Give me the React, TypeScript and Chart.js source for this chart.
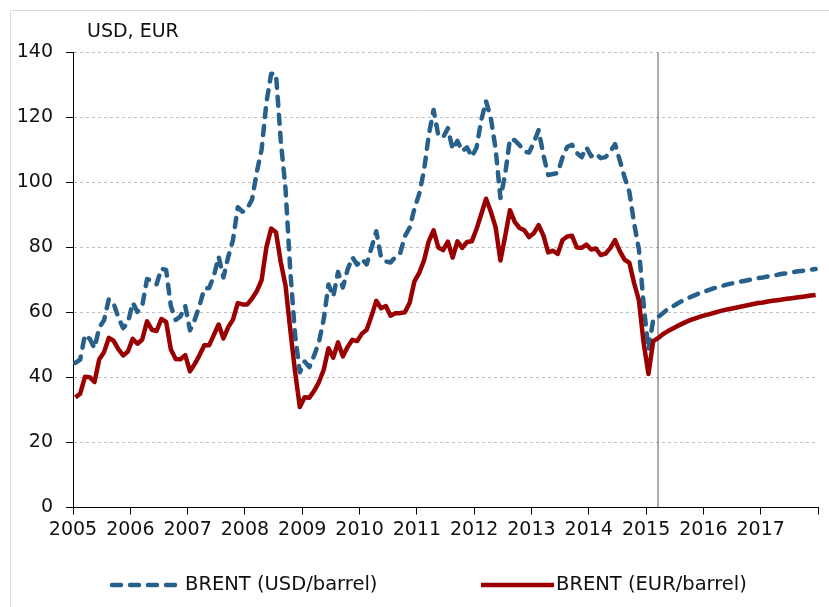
import React, { useEffect, useRef } from 'react';
import { Chart, registerables } from 'chart.js';

Chart.register(...registerables);

const FONT = '"DejaVu Sans", Verdana, sans-serif';

// Year tick labels (one tick every 12 months, Jan 2005 .. Dec 2017)
const yearLabels = ['2005', '2006', '2007', '2008', '2009', '2010', '2011', '2012', '2013', '2014', '2015', '2016', '2017'];

// Monthly Brent, USD/barrel, Jan 2005 .. Feb 2015
const usdHistory = [
  44.5, 45.5, 53.1, 51.9, 49.0, 55.4, 57.6, 64.1, 62.8, 58.5, 55.2, 56.9,
  63.0, 60.2, 62.1, 70.3, 69.8, 68.7, 73.5, 73.1, 61.9, 57.7, 58.8, 62.0,
  54.5, 57.8, 62.1, 67.4, 67.5, 71.3, 77.2, 70.8, 77.1, 82.3, 92.4, 91.0,
  92.0, 94.8, 103.3, 110.2, 124.6, 133.5, 133.5, 113.0, 98.1, 72.8, 53.2, 41.6,
  44.9, 43.2, 46.8, 50.9, 57.9, 68.6, 64.9, 72.5, 67.7, 73.2, 77.0, 74.7,
  76.4, 74.8, 79.9, 85.0, 77.0, 75.7, 75.4, 77.1, 78.2, 83.5, 86.1, 92.0,
  96.5, 103.7, 114.6, 122.3, 114.5, 113.9, 116.7, 110.2, 112.8, 109.6, 110.8, 107.9,
  110.7, 119.3, 125.0, 119.8, 110.3, 95.2, 102.6, 113.4, 113.0, 111.5, 109.5, 109.2,
  112.3, 116.1, 108.5, 102.3, 102.6, 102.9, 107.7, 111.0, 111.6, 109.1, 107.8, 110.8,
  108.1, 108.9, 107.5, 107.8, 109.5, 111.8, 106.8, 101.6, 97.1, 87.4, 79.4, 62.3,
  48.5, 57.8,
];

// Forecast, USD/barrel, Mar 2015 .. Dec 2017
const usdForecast = [
  58.6, 59.8, 61.0, 61.8, 62.7, 63.5, 64.2, 64.9, 65.5, 66.1,
  66.6, 67.1, 67.6, 68.0, 68.4, 68.8, 69.1, 69.4, 69.7, 70.0, 70.3, 70.6,
  70.8, 71.1, 71.4, 71.6, 71.9, 72.1, 72.3, 72.6, 72.8, 73.0, 73.2, 73.4,
];

// Monthly Brent, EUR/barrel, Jan 2005 .. Feb 2015
const eurHistory = [
  33.9, 35.0, 40.2, 40.1, 38.6, 45.6, 47.8, 52.2, 51.3, 48.7, 46.8, 48.0,
  51.9, 50.4, 51.7, 57.3, 54.7, 54.3, 58.0, 57.1, 48.6, 45.7, 45.6, 46.9,
  41.9, 44.2, 46.9, 49.9, 49.9, 53.1, 56.3, 52.0, 55.5, 57.8, 62.9, 62.5,
  62.5, 64.3, 66.6, 70.0, 80.1, 85.8, 84.7, 75.5, 68.3, 54.7, 41.8, 30.9,
  33.9, 33.8, 35.9, 38.6, 42.4, 49.0, 46.1, 50.8, 46.5, 49.4, 51.6, 51.2,
  53.5, 54.7, 58.9, 63.6, 61.3, 62.0, 59.0, 59.8, 59.8, 60.1, 63.0, 69.6,
  72.2, 76.0, 81.9, 85.3, 80.0, 79.2, 81.8, 76.9, 81.9, 79.9, 81.7, 81.9,
  85.7, 90.3, 95.0, 91.0, 86.2, 76.0, 83.5, 91.5, 87.9, 86.0, 85.3, 83.2,
  84.4, 86.9, 83.7, 78.5, 79.0, 78.0, 82.3, 83.4, 83.6, 80.0, 79.9, 80.9,
  79.4, 79.7, 77.7, 78.1, 79.8, 82.3, 78.9, 76.3, 75.3, 69.0, 63.7, 50.5,
  41.1, 51.2,
];

// Forecast, EUR/barrel, Mar 2015 .. Dec 2017
const eurForecast = [
  52.1, 53.3, 54.2, 55.0, 55.8, 56.5, 57.2, 57.8, 58.3, 58.8,
  59.2, 59.6, 60.0, 60.4, 60.8, 61.1, 61.4, 61.7, 62.0, 62.3, 62.6, 62.9,
  63.1, 63.4, 63.6, 63.8, 64.0, 64.2, 64.4, 64.6, 64.8, 65.0, 65.2, 65.4,
];

const usdValues = [...usdHistory, ...usdForecast];
const eurValues = [...eurHistory, ...eurForecast];

// Month index (0 = Jan 2005) where the forecast marker line sits (Mar 2015)
const forecastMonth = 122;

const seriesNames = ['BRENT (USD/barrel)', 'BRENT (EUR/barrel)'];
const unitLabel = 'USD, EUR';
const yMax = 140;
const yStep = 20;
const monthsPerYear = 12;
const totalMonths = yearLabels.length * monthsPerYear;

const BLUE = '#27608A';
const RED = '#9A0000';
const TEXT = '#111111';

const toPoints = (vals: number[]) => vals.map((v, i) => ({ x: i + 0.5, y: v }));

const framePlugin = {
  id: 'frame',
  beforeDraw(chart: any) {
    const { ctx, width, height } = chart;
    ctx.save();
    ctx.fillStyle = '#ffffff';
    ctx.fillRect(0, 0, width, height);
    ctx.strokeStyle = '#D9D9D9';
    ctx.lineWidth = 1;
    ctx.beginPath();
    ctx.moveTo(10.5, height);
    ctx.lineTo(10.5, 10.5);
    ctx.lineTo(width, 10.5);
    ctx.stroke();
    ctx.restore();
  },
};

const unitPlugin = {
  id: 'unitLabel',
  afterDraw(chart: any) {
    const { ctx, chartArea } = chart;
    ctx.save();
    ctx.fillStyle = TEXT;
    ctx.font = `19px ${FONT}`;
    ctx.textBaseline = 'alphabetic';
    ctx.textAlign = 'left';
    ctx.fillText(unitLabel, chartArea.left + 14, 37);
    ctx.restore();
  },
};

const legendPlugin = {
  id: 'bottomLegend',
  afterDraw(chart: any) {
    const { ctx } = chart;
    const starts = [110, 481];
    const y = 585;
    ctx.save();
    [0, 1].forEach((di, k) => {
      const ds = chart.data.datasets[di];
      const x0 = starts[k];
      ctx.strokeStyle = ds.borderColor;
      ctx.lineWidth = ds.borderWidth;
      ctx.lineCap = ds.borderCapStyle || 'butt';
      ctx.setLineDash(ds.borderDash || []);
      ctx.beginPath();
      const capPad = ds.borderCapStyle === 'round' ? 2 : 0;
      ctx.moveTo(x0 + capPad, y);
      ctx.lineTo(x0 + 73 - capPad, y);
      ctx.stroke();
      ctx.setLineDash([]);
      ctx.fillStyle = TEXT;
      ctx.font = `19.5px ${FONT}`;
      ctx.textBaseline = 'middle';
      ctx.textAlign = 'left';
      ctx.fillText(ds.label, x0 + 75, y);
    });
    ctx.restore();
  },
};

export default function App() {
  const ref = useRef<HTMLCanvasElement | null>(null);

  useEffect(() => {
    if (!ref.current) return;
    const chart = new Chart(ref.current, {
      type: 'line',
      data: {
        datasets: [
          {
            label: seriesNames[0],
            data: toPoints(usdValues),
            borderColor: BLUE,
            backgroundColor: BLUE,
            borderWidth: 4.5,
            borderDash: [9, 9],
            borderCapStyle: 'round',
            borderJoinStyle: 'round',
            pointRadius: 0,
            tension: 0,
            order: 1,
          },
          {
            label: seriesNames[1],
            data: toPoints(eurValues),
            borderColor: RED,
            backgroundColor: RED,
            borderWidth: 4.5,
            borderCapStyle: 'butt',
            borderJoinStyle: 'round',
            pointRadius: 0,
            tension: 0,
            order: 0,
          },
          {
            label: 'forecast',
            data: [
              { x: forecastMonth + 0.5, y: 0 },
              { x: forecastMonth + 0.5, y: yMax },
            ],
            borderColor: '#5A5A5A',
            borderWidth: 1,
            pointRadius: 0,
            order: 2,
          },
        ],
      } as any,
      options: {
        animation: false,
        responsive: false,
        devicePixelRatio: 1,
        layout: { padding: { left: 0, right: 11, top: 52.5, bottom: 0 } },
        plugins: {
          legend: { display: false },
          tooltip: { enabled: false },
          title: { display: false },
        },
        scales: {
          x: {
            type: 'linear',
            min: 0,
            max: totalMonths,
            afterBuildTicks: (scale: any) => {
              const t = [];
              for (let i = 0; i <= yearLabels.length; i++) t.push({ value: i * monthsPerYear });
              scale.ticks = t;
            },
            afterFit: (scale: any) => {
              scale.height = 99.5;
            },
            ticks: {
              autoSkip: false,
              maxRotation: 0,
              padding: 4,
              color: TEXT,
              font: { family: FONT, size: 19 },
              callback: (v: any) => {
                const idx = Math.round(Number(v) / monthsPerYear);
                return yearLabels[idx] ?? '';
              },
            },
            grid: {
              drawOnChartArea: false,
              drawTicks: true,
              tickLength: 7,
              tickColor: '#000',
              color: '#000',
            },
            border: { display: true, color: '#000', width: 1 },
          },
          y: {
            type: 'linear',
            min: 0,
            max: yMax,
            afterFit: (scale: any) => {
              scale.width = 73;
            },
            ticks: {
              stepSize: yStep,
              padding: 13,
              color: TEXT,
              font: { family: FONT, size: 19 },
            },
            grid: {
              drawTicks: true,
              tickLength: 7,
              tickColor: '#000',
              color: (c: any) => (c.tick && c.tick.value === 0 ? 'rgba(0,0,0,0)' : '#BFBFBF'),
              lineWidth: 1,
            },
            border: { display: true, color: '#000', width: 1, dash: [3, 3] },
          },
        },
      } as any,
      plugins: [framePlugin, unitPlugin, legendPlugin],
    });
    return () => chart.destroy();
  }, []);

  return (
    <div style={{ position: 'absolute', left: 0, top: 0, width: 829, height: 607, overflow: 'hidden' }}>
      <canvas ref={ref} width={829} height={607} style={{ display: 'block', width: 829, height: 607 }} />
    </div>
  );
}
